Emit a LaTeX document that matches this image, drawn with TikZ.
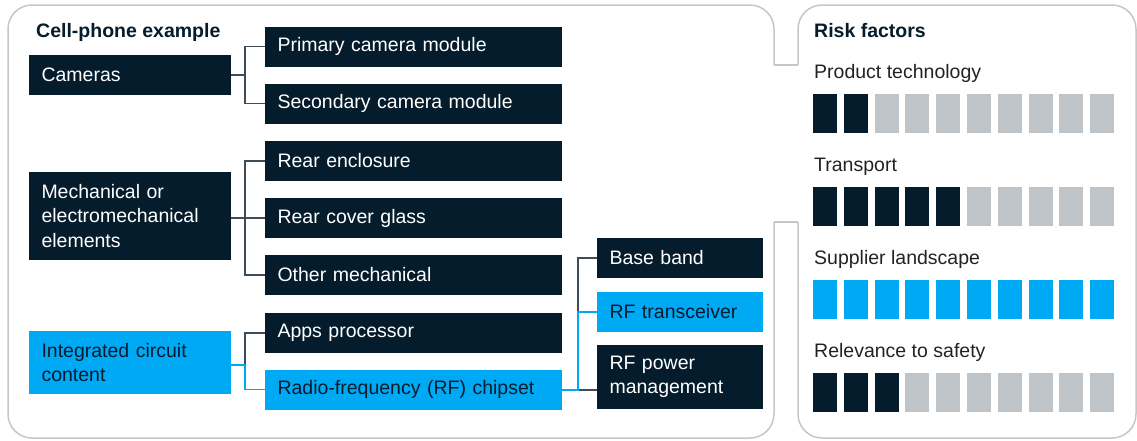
\documentclass[tikz,border=0pt]{standalone}
\usepackage{fontspec}
\setmainfont{Liberation Sans}
\definecolor{navy}{HTML}{051C2C}
\definecolor{mckblue}{HTML}{00A9F4}
\definecolor{sqgray}{HTML}{BFC4C8}
\definecolor{outl}{HTML}{C6C6C6}
\definecolor{conn}{HTML}{3E4D59}
\definecolor{txt}{HTML}{222222}
\begin{document}
\begin{tikzpicture}[x=1pt,y=-1pt,
  darkbox/.style={rectangle, fill=navy, text=white, inner xsep=12.5pt, inner ysep=0pt, align=left,
    font=\fontsize{19.5}{24.5}\selectfont},
  bluebox/.style={darkbox, fill=mckblue, text=navy},
  colA/.style={text width=177pt, minimum height=#1},
  colB/.style={text width=272pt, minimum height=#1},
  colC/.style={text width=141pt, minimum height=#1},
  connline/.style={draw=conn, line width=1.5pt},
  blueline/.style={draw=mckblue, line width=1.5pt},
  panel/.style={draw=outl, line width=1.5pt},
  heading/.style={anchor=base west, inner sep=0pt, text=navy, font=\fontsize{19.5}{24.5}\selectfont\bfseries},
  label/.style={anchor=base west, inner sep=0pt, text=txt, font=\fontsize{19.5}{24.5}\selectfont},
  sq/.style={line width=0pt}
]
\useasboundingbox (0,0) rectangle (1137,440);

% panels
\draw[panel, rounded corners=24pt] (774,65) -- (774,5) -- (8,5) -- (8,438) -- (774,438) -- (774,222);
\draw[panel] (774,65) -- (798,65);
\draw[panel] (774,222) -- (798,222);
\draw[panel, rounded corners=24pt] (798,65) -- (798,5) -- (1136,5) -- (1136,438) -- (798,438) -- (798,222);

% left panel
\node[heading] (title) at (36,37) {Cell-phone example};

\node[darkbox, colA=40pt] (cam) at (130,75) {Cameras};
\node[darkbox, colA=88pt] (mech) at (130,216) {Mechanical or\\electromechanical\\elements};
\node[bluebox, colA=63pt] (ic) at (130,362.5) {Integrated circuit\\content};

\node[darkbox, colB=40pt] (pcm) at (413.5,46.5) {Primary camera module};
\node[darkbox, colB=40pt] (scm) at (413.5,103.5) {Secondary camera module};
\node[darkbox, colB=40pt] (re) at (413.5,161) {Rear enclosure};
\node[darkbox, colB=40pt] (rcg) at (413.5,218) {Rear cover glass};
\node[darkbox, colB=40pt] (om) at (413.5,275) {Other mechanical};
\node[darkbox, colB=40pt] (ap) at (413.5,333) {Apps processor};
\node[bluebox, colB=40pt] (rfc) at (413.5,389.5) {Radio-frequency (RF) chipset};

\node[darkbox, colC=40pt] (bb) at (680,258) {Base band};
\node[bluebox, colC=40pt] (rft) at (680,312) {RF transceiver};
\node[darkbox, colC=64pt] (rfp) at (680,377) {RF power\\management};

% junctions
\coordinate (j1) at (245,75);
\coordinate (j2) at (245,218);
\coordinate (j3) at (245,365);
\coordinate (j4) at (578,390);

% connectors
\draw[connline] (cam.east) -- (j1);
\draw[connline] (pcm.west) -| (j1) |- (scm.west);
\draw[connline] (mech.east |- j2) -- (j2);
\draw[connline] (re.west) -| (j2) |- (om.west);
\draw[connline] (j2) -- (rcg.west);
\draw[connline] (ap.west) -| (j3);
\draw[blueline] (ic.east |- j3) -- (j3) |- (rfc.west);
\draw[connline] (bb.west) -| (j4) -- (rfp.west |- j4);
\draw[blueline] (rfc.east |- j4) -- (j4) |- (rft.west);

% right panel
\node[heading] (risk) at (814,37) {Risk factors};
\node[label] (l1) at (814,78) {Product technology};
\node[label] (l2) at (814,171) {Transport};
\node[label] (l3) at (814,264) {Supplier landscape};
\node[label] (l4) at (814,357) {Relevance to safety};

\foreach \y/\n/\col in {94/2/navy, 187/5/navy, 280/10/mckblue, 373/3/navy} {
  \foreach \i in {0,...,9} {
    \ifnum\i<\n\relax\def\fc{\col}\else\def\fc{sqgray}\fi
    \fill[\fc] ({813+30.8*\i},\y) rectangle ++(24,39);
  }
}
\end{tikzpicture}
\end{document}
